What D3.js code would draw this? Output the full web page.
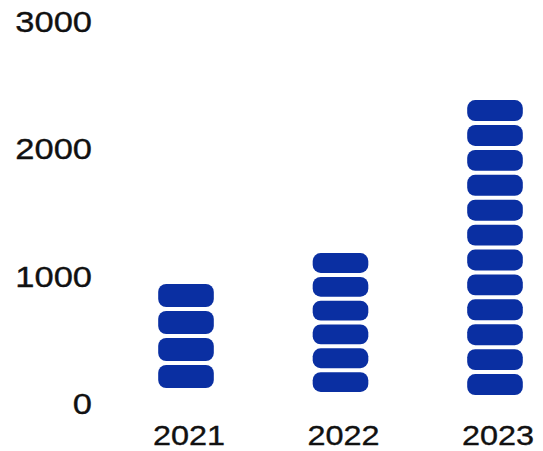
<!DOCTYPE html>
<html>
<head>
<meta charset="utf-8">
<script src="https://cdn.jsdelivr.net/npm/d3@7/dist/d3.min.js"></script>
<style>
  html, body { margin: 0; padding: 0; background: #fff; }
  svg { display: block; }
</style>
</head>
<body>
<svg id="chart" width="543" height="451"></svg>
<script>
// ---- data ----
const years = ["2021", "2022", "2023"];
const values = [932, 1175, 2378];       // top of each stack
const stackBase = [114, 83, 59];        // bottom of each stack
const pillCounts = [4, 6, 12];          // number of pill segments per stack
const yTicks = [0, 1000, 2000, 3000];

// ---- layout ----
const W = 543, H = 451;
const svg = d3.select("#chart");
const barColor = "#0a2fa2";
const pillGap = 4;

const y = d3.scaleLinear().domain([0, 3000]).range([402.5, 21]);
const x = d3.scaleBand().domain(years)
  .range([108.75, 572.25]).paddingInner(0.64).paddingOuter(0.32);

// Y axis (labels only)
const yFont = 30;
const yAxis = d3.axisLeft(y).tickValues(yTicks).tickSize(0).tickFormat(d3.format("d"));
const gy = svg.append("g").call(yAxis);
gy.select(".domain").remove();
gy.selectAll(".tick text").remove();
gy.selectAll(".tick").append("text")
  .attr("text-anchor", "end")
  .attr("transform", "translate(92," + (0.358 * yFont) + ") scale(1.15,1)")
  .attr("fill", "#111")
  .attr("stroke", "#111").attr("stroke-width", 0.35)
  .style("font-family", "'Liberation Sans', Arial, Helvetica, sans-serif")
  .style("font-size", yFont + "px")
  .text(d => d);

// X axis (labels only)
const xFont = 27;
const xAxis = d3.axisBottom(x).tickSize(0);
const gx = svg.append("g").call(xAxis);
gx.select(".domain").remove();
gx.selectAll(".tick text").remove();
gx.selectAll(".tick").append("text")
  .attr("text-anchor", "middle")
  .attr("transform", "translate(3,445) scale(1.2,1)")
  .attr("fill", "#111")
  .attr("stroke", "#111").attr("stroke-width", 0.35)
  .style("font-family", "'Liberation Sans', Arial, Helvetica, sans-serif")
  .style("font-size", xFont + "px")
  .text(d => d);

// Pill stacks
years.forEach((yr, i) => {
  const top = y(values[i]);
  const bottom = y(stackBase[i]);
  const n = pillCounts[i];
  const h = (bottom - top - (n - 1) * pillGap) / n;
  const pills = d3.range(n);
  svg.append("g").selectAll("rect").data(pills).join("rect")
    .attr("x", x(yr))
    .attr("width", x.bandwidth())
    .attr("y", k => top + k * (h + pillGap))
    .attr("height", h)
    .attr("rx", 8).attr("ry", 8)
    .attr("fill", barColor);
});
</script>
</body>
</html>
